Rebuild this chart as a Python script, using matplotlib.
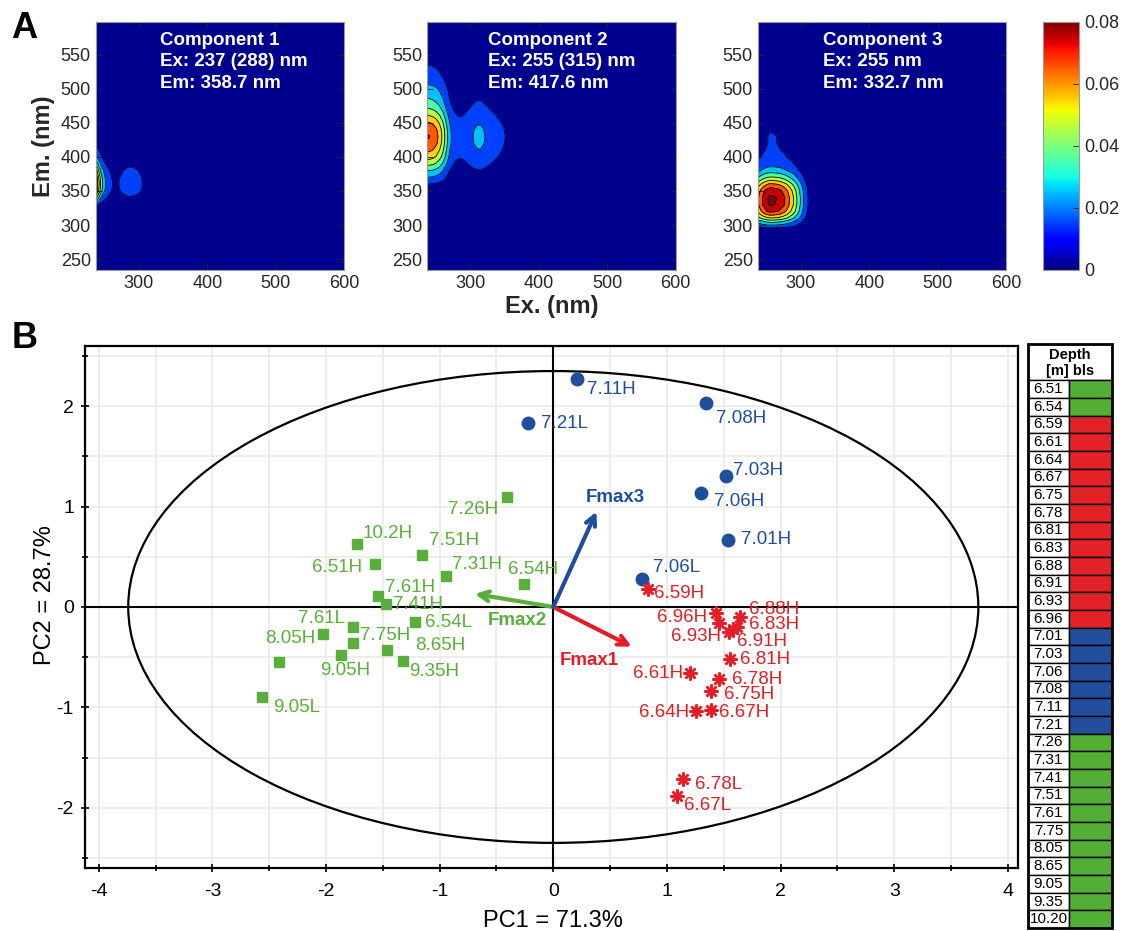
import numpy as np
import matplotlib
matplotlib.use("Agg")
import matplotlib.pyplot as plt
from matplotlib.patches import Ellipse, Rectangle
from matplotlib.colors import Normalize
from matplotlib.cm import ScalarMappable

plt.rcParams['font.family'] = ['Liberation Sans', 'DejaVu Sans']
plt.rcParams['axes.unicode_minus'] = False

# ---------------- panel A : PARAFAC components -----------------
# excitation / emission wavelength grids (nm)
ex_nm = [237, 240, 245, 250, 255, 260, 265, 270, 275, 280, 285, 290, 295, 300, 305,
         310, 315, 320, 325, 330, 340, 350, 360, 380, 400, 450, 500, 550, 600]
em_nm = [234, 260, 280, 290, 295, 300, 305, 310, 315, 320, 330, 340, 350, 355, 360, 365,
         370, 380, 390, 400, 410, 420, 430, 440, 450, 460, 470, 480, 490, 500, 510, 520,
         530, 540, 560, 580, 598]

# loadings (relative, max=1)
c1_ex = [1.0, 0.75, 0.45, 0.28, 0.19, 0.135, 0.11, 0.12, 0.15, 0.18, 0.2, 0.2, 0.185, 0.16, 0.125,
         0.09, 0.065, 0.045, 0.03, 0.02, 0.01, 0.005, 0, 0, 0, 0, 0, 0, 0]
c1_em = [0, 0, 0, 0.005, 0.007, 0.01, 0.02, 0.03, 0.05, 0.07, 0.16, 0.55, 0.9, 0.97, 1.0, 0.98,
         0.93, 0.75, 0.5, 0.3, 0.19, 0.12, 0.08, 0.05, 0.03, 0.02, 0.01, 0.005, 0, 0, 0, 0,
         0, 0, 0, 0, 0]
c2_ex = [1.0, 0.99, 0.96, 0.9, 0.8, 0.66, 0.48, 0.32, 0.235, 0.2, 0.19, 0.2, 0.225, 0.255, 0.29,
         0.315, 0.315, 0.29, 0.26, 0.23, 0.185, 0.145, 0.1, 0.04, 0.015, 0, 0, 0, 0]
c2_em = [0, 0, 0, 0, 0, 0, 0, 0, 0, 0, 0.005, 0.02, 0.06, 0.09, 0.14, 0.205,
         0.28, 0.43, 0.61, 0.77, 0.88, 0.97, 1.0, 0.96, 0.86, 0.72, 0.58, 0.47, 0.39, 0.33, 0.25, 0.19,
         0.155, 0.125, 0.08, 0.05, 0.03]
c3_ex = [0.7, 0.78, 0.88, 0.96, 1.0, 0.99, 0.975, 0.94, 0.88, 0.8, 0.7, 0.6, 0.47, 0.35, 0.22,
         0.13, 0.07, 0.035, 0.015, 0.005, 0, 0, 0, 0, 0, 0, 0, 0, 0]
c3_em = [0, 0, 0.01, 0.03, 0.1, 0.25, 0.4, 0.6, 0.75, 0.88, 0.99, 1.0, 0.93, 0.85, 0.75, 0.62,
         0.5, 0.3, 0.2, 0.15, 0.13, 0.125, 0.125, 0.12, 0.095, 0.07, 0.05, 0.03, 0.02, 0.01, 0, 0,
         0, 0, 0, 0, 0]
comp_fmax = [0.08, 0.071, 0.082]
comp_text = ["Component 1\nEx: 237 (288) nm\nEm: 358.7 nm",
             "Component 2\nEx: 255 (315) nm\nEm: 417.6 nm",
             "Component 3\nEx: 255 nm\nEm: 332.7 nm"]
cbar_ticks = [0, 0.02, 0.04, 0.06, 0.08]

# ---------------- panel B : PCA -----------------
blue_lab = ['7.11H', '7.21L', '7.08H', '7.03H', '7.06H', '7.01H', '7.06L']
blue_x = [0.21, -0.22, 1.34, 1.52, 1.30, 1.54, 0.785]
blue_y = [2.27, 1.83, 2.03, 1.30, 1.14, 0.67, 0.275]

green_lab = ['7.26H', '10.2H', '6.51H', '7.51H', '7.31H', '6.54H', '7.61H', '7.41H', '6.54L',
             '7.61L', '8.05H', '7.75H', '8.65H', '9.05H', '9.35H', '', '9.05L']
green_x = [-0.41, -1.73, -1.57, -1.155, -0.94, -0.26, -1.54, -1.47, -1.22,
           -1.76, -2.03, -1.76, -1.46, -1.87, -1.32, -2.41, -2.56]
green_y = [1.10, 0.63, 0.43, 0.52, 0.31, 0.23, 0.11, 0.03, -0.15,
           -0.20, -0.27, -0.36, -0.43, -0.48, -0.54, -0.55, -0.90]

red_lab = ['6.59H', '6.96H', '6.93H', '6.88H', '6.83H', '6.91H', '', '6.81H', '6.61H',
           '6.78H', '6.75H', '6.64H', '6.67H', '6.78L', '6.67L']
red_x = [0.83, 1.43, 1.46, 1.645, 1.62, 1.55, 1.585, 1.556, 1.205,
         1.46, 1.39, 1.26, 1.39, 1.14, 1.09]
red_y = [0.18, -0.06, -0.16, -0.10, -0.20, -0.25, -0.22, -0.52, -0.66,
         -0.72, -0.84, -1.04, -1.025, -1.71, -1.88]

# loading vectors
fmax_names = ['Fmax1', 'Fmax2', 'Fmax3']
fmax_x = [0.69, -0.69, 0.38]
fmax_y = [-0.395, 0.13, 0.95]

ellipse_a, ellipse_b = 3.74, 2.35
pc1_label = 'PC1 = 71.3%'
pc2_label = 'PC2 = 28.7%'

# depth legend
depths = ['6.51', '6.54', '6.59', '6.61', '6.64', '6.67', '6.75', '6.78', '6.81', '6.83',
          '6.88', '6.91', '6.93', '6.96', '7.01', '7.03', '7.06', '7.08', '7.11', '7.21',
          '7.26', '7.31', '7.41', '7.51', '7.61', '7.75', '8.05', '8.65', '9.05', '9.35', '10.20']
depth_group = ['g', 'g'] + ['r'] * 12 + ['b'] * 6 + ['g'] * 11

GREEN = '#5AAE3C'
RED = '#E41E26'
BLUE = '#1F4E9E'
group_col = {'g': '#52AE35', 'r': '#E32228', 'b': '#234E9C'}

# label placement (offset points, alignment)
lab_pos = {
    '7.11H': (7, -7.5, 'left'), '7.21L': (9, 0, 'left'), '7.08H': (7.5, -11, 'left'),
    '7.03H': (5, 4.5, 'left'), '7.06H': (9.5, -6.5, 'left'), '7.01H': (9.5, 0, 'left'),
    '7.06L': (7.5, 8.5, 'left'),
    '7.26H': (-6, -9.5, 'right'), '10.2H': (4, 7.5, 'left'), '6.51H': (-9, -3, 'right'),
    '7.51H': (5, 10, 'left'), '7.31H': (4, 8.5, 'left'), '6.54H': (6.5, 10.5, 'center'),
    '7.61H': (4.5, 6, 'left'), '7.41H': (5, -0.5, 'left'), '6.54L': (7.5, 0, 'left'),
    '7.61L': (-6, 6.5, 'right'), '8.05H': (-5, -3, 'right'), '7.75H': (5, 5.5, 'left'),
    '8.65H': (20, 3, 'left'), '9.05H': (3.5, -11, 'center'), '9.35H': (4, -7.5, 'left'),
    '9.05L': (8, -7, 'left'),
    '6.59H': (4.5, -3.5, 'left'), '6.96H': (-6.5, -3.5, 'right'), '6.93H': (1.5, -9.5, 'right'),
    '6.88H': (6, 5.5, 'left'), '6.83H': (8, 1.5, 'left'), '6.91H': (5.5, -7, 'left'),
    '6.81H': (7, 0, 'left'), '6.61H': (-5, 0, 'right'), '6.78H': (9, 0, 'left'),
    '6.75H': (9, -2.5, 'left'), '6.64H': (-5.5, -1, 'right'), '6.67H': (5.5, -2, 'left'),
    '6.78L': (9, -4.5, 'left'), '6.67L': (5, -7, 'left'),
}
fmax_lab_pos = [(0.32, -0.53), (-0.32, -0.13), (0.55, 1.09)]

fig = plt.figure(figsize=(11.22, 9.31), dpi=100)

# ---------- panel A ----------
jet = plt.get_cmap('jet')
clev = np.round(np.arange(0.01, 0.081, 0.01), 3)
fill_lev = np.concatenate([[-1], clev, [1]])
band_cols = ['#00008F'] + [jet((lo + 0.005) / 0.08) for lo in clev[:-1]] + [jet(1.0)]

comps = [(c1_ex, c1_em), (c2_ex, c2_em), (c3_ex, c3_em)]
lefts = [0.0853, 0.3808, 0.6753]
txt_x = [0.26, 0.246, 0.264]
TICKC = '#262626'
for i, (exl, eml) in enumerate(comps):
    ax = fig.add_axes([lefts[i], 0.710, 0.2215, 0.2664])
    Z = np.outer(eml, exl) * comp_fmax[i]
    ax.contourf(ex_nm, em_nm, Z, levels=fill_lev, colors=band_cols)
    ax.contour(ex_nm, em_nm, Z, levels=clev, colors='k', linewidths=0.6)
    ax.set_xlim(237, 600)
    ax.set_ylim(234, 598)
    ax.set_xticks([300, 400, 500, 600])
    ax.set_yticks([250, 300, 350, 400, 450, 500, 550])
    ax.tick_params(direction='in', top=True, right=True, length=4, labelsize=13,
                   colors=TICKC, width=0.6)
    for s in ax.spines.values():
        s.set_color('#9a9a9a')
        s.set_linewidth(0.8)
    ax.text(txt_x[i], 0.96, comp_text[i], transform=ax.transAxes, color='white',
            fontweight='bold', fontsize=13.5, va='top', ha='left', linespacing=1.35)
    if i == 0:
        ax.set_ylabel('Em. (nm)', fontsize=17, fontweight='bold', color=TICKC, labelpad=4)
    if i == 1:
        ax.set_xlabel('Ex. (nm)', fontsize=17, fontweight='bold', color=TICKC, labelpad=2)

cax = fig.add_axes([0.9293, 0.710, 0.0326, 0.2664])
sm = ScalarMappable(norm=Normalize(0, 0.08), cmap=jet)
cb = fig.colorbar(sm, cax=cax, ticks=cbar_ticks)
cb.ax.set_yticklabels(['0', '0.02', '0.04', '0.06', '0.08'])
cb.ax.tick_params(labelsize=13, colors=TICKC, direction='in', length=4, width=0.6)
cb.outline.set_edgecolor('#9a9a9a')

fig.text(0.010, 0.988, 'A', fontsize=26, fontweight='bold', va='top')
fig.text(0.010, 0.655, 'B', fontsize=26, fontweight='bold', va='top')

# ---------- panel B ----------
ax = fig.add_axes([0.0758, 0.0677, 0.8316, 0.5607])
ax.set_xlim(-4.12, 4.09)
ax.set_ylim(-2.6, 2.6)
ax.set_xticks(np.arange(-4, 4.1, 1))
ax.set_xticks(np.arange(-4, 4.1, 0.5), minor=True)
ax.set_yticks(np.arange(-2, 2.1, 1))
ax.set_yticks(np.arange(-2.5, 2.6, 0.5), minor=True)
ax.grid(which='both', color='#e8e8e8', lw=1.1)
ax.set_axisbelow(True)
ax.tick_params(which='both', direction='inout', length=6, width=1.2, labelsize=14)
ax.tick_params(axis='y', pad=5)
ax.tick_params(axis='x', pad=8)
ax.tick_params(which='minor', length=5)
for s in ax.spines.values():
    s.set_linewidth(1.6)
ax.axhline(0, color='k', lw=1.5, zorder=1)
ax.axvline(0, color='k', lw=1.5, zorder=1)
ax.add_patch(Ellipse((0, 0), 2 * ellipse_a, 2 * ellipse_b, fill=False, ec='k', lw=1.6, zorder=2))

ax.plot(blue_x, blue_y, 'o', color=BLUE, ms=9, zorder=4, ls='none')
ax.plot(green_x, green_y, 's', color=GREEN, ms=7.5, zorder=4, ls='none')
ax.plot(red_x, red_y, marker=(8, 2, 0), color=RED, ms=10, mew=1.8, zorder=4, ls='none')

for labs, xs, ys, c in [(blue_lab, blue_x, blue_y, BLUE), (green_lab, green_x, green_y, GREEN),
                        (red_lab, red_x, red_y, RED)]:
    for l, x, y in zip(labs, xs, ys):
        if not l:
            continue
        dx, dy, ha = lab_pos[l]
        ax.annotate(l, (x, y), xytext=(dx, dy), textcoords='offset points', ha=ha,
                    va='center', color=c, fontsize=13.5, zorder=5)

fcols = [RED, GREEN, BLUE]
for n, x, y, c, p in zip(fmax_names, fmax_x, fmax_y, fcols, fmax_lab_pos):
    ax.annotate('', xy=(x, y), xytext=(0, 0),
                arrowprops=dict(arrowstyle='->,head_length=0.7,head_width=0.35', color=c,
                                lw=3, shrinkA=0, shrinkB=0), zorder=6)
    ax.text(p[0], p[1], n, color=c, fontsize=13.5, fontweight='bold', ha='center',
            va='center', zorder=6)

fig.text(553 / 1122, 1 - 921 / 931, pc1_label, fontsize=17, ha='center', va='center')
fig.text(45 / 1122, 1 - 595 / 931, pc2_label, fontsize=17, ha='center', va='center',
         rotation=90)

# ---------- depth legend table ----------
tx = fig.add_axes([0.9162, 0.0032, 0.0749, 0.6273])
head_h, row_h, col1, width = 36, 17.6, 41, 84
total = head_h + row_h * len(depths)
tx.set_xlim(0, width)
tx.set_ylim(total, 0)
tx.axis('off')
tx.add_patch(Rectangle((0, 0), width, head_h, fc='white', ec='k', lw=1))
tx.text(width / 2, head_h * 0.3, 'Depth', ha='center', va='center', fontsize=10.5, fontweight='bold')
tx.text(width / 2, head_h * 0.75, '[m] bls', ha='center', va='center', fontsize=10.5, fontweight='bold')
for i, (d, g) in enumerate(zip(depths, depth_group)):
    y0 = head_h + i * row_h
    tx.add_patch(Rectangle((0, y0), col1, row_h, fc='white', ec='k', lw=1))
    tx.add_patch(Rectangle((col1, y0), width - col1, row_h, fc=group_col[g], ec='k', lw=1))
    tx.text(col1 / 2, y0 + row_h / 2, d, ha='center', va='center', fontsize=11)
tx.add_patch(Rectangle((0, 0), width, total, fill=False, ec='k', lw=2, clip_on=False))

fig.savefig('out.png', dpi=100)
